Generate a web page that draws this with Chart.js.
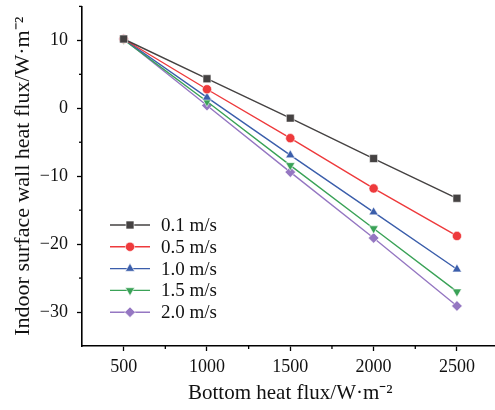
<!DOCTYPE html>
<html>
<head>
<meta charset="utf-8">
<script src="https://cdn.jsdelivr.net/npm/chart.js@4/dist/chart.umd.min.js"></script>
<style>
  html, body { margin: 0; padding: 0; background: #fff; }
  #wrap { width: 495px; height: 410px; overflow: hidden; }
</style>
</head>
<body>
<div id="wrap"><canvas id="chart" width="505" height="410"></canvas></div>
<script>
// bottom heat flux (W/m2)
const heatFlux = [500, 1000, 1500, 2000, 2500];

// indoor surface wall heat flux for each wind speed
const v01 = [10.2, 4.35, -1.45, -7.4, -13.25];
const v05 = [10.2, 2.8, -4.4, -11.8, -18.8];
const v10 = [10.2, 1.6, -6.9, -15.3, -23.7];
const v15 = [10.1, 1.0, -8.4, -17.7, -27.0];
const v20 = [10.2, 0.4, -9.4, -19.1, -29.1];

const speedLabels = ['0.1 m/s', '0.5 m/s', '1.0 m/s', '1.5 m/s', '2.0 m/s'];

const xMajor = [500, 1000, 1500, 2000, 2500];
const xMinor = [750, 1250, 1750, 2250, 2750];
const yMajor = [-30, -20, -10, 0, 10];
const yMinor = [-25, -15, -5, 5, 15];

const serif = '"Liberation Serif", "Times New Roman", serif';

function series(label, values, color, style, rot, radius) {
  return {
    label,
    data: heatFlux.map((x, i) => ({ x, y: values[i] })),
    borderColor: color,
    backgroundColor: color,
    borderWidth: 1.4,
    pointStyle: style,
    rotation: rot,
    pointRadius: radius,
    pointBorderColor: 'rgba(255,255,255,0.7)',
    pointBorderWidth: 0.8,
    tension: 0
  };
}

const datasets = [
  series(speedLabels[0], v01, '#454242', 'rect', 0, 5.6),
  series(speedLabels[1], v05, '#ee3a3c', 'circle', 0, 4.6),
  series(speedLabels[2], v10, '#3b5eab', 'triangle', 0, 5.3),
  series(speedLabels[3], v15, '#3aa257', 'triangle', 180, 5.3),
  series(speedLabels[4], v20, '#9577c2', 'rectRot', 0, 5.3)
];

const fmt = v => (v < 0 ? '\u2212' + Math.abs(v) : String(v));

// minor tick marks + line/marker legend
const extras = {
  id: 'extras',
  afterDraw(chart) {
    const ctx = chart.ctx;
    const xs = chart.scales.x, ys = chart.scales.y;
    const area = chart.chartArea;
    ctx.save();
    ctx.strokeStyle = '#000';
    ctx.lineWidth = 1.3;
    xMinor.forEach(v => {
      const px = xs.getPixelForValue(v);
      ctx.beginPath();
      ctx.moveTo(px, area.bottom);
      ctx.lineTo(px, area.bottom + 3);
      ctx.stroke();
    });
    yMinor.forEach(v => {
      const py = ys.getPixelForValue(v);
      ctx.beginPath();
      ctx.moveTo(area.left, py);
      ctx.lineTo(area.left - 3, py);
      ctx.stroke();
    });

    const lx = 110, ly = 225, gap = 21.8;
    ctx.font = '19px ' + serif;
    ctx.textBaseline = 'middle';
    ctx.textAlign = 'left';
    chart.data.datasets.forEach((ds, i) => {
      const y = ly + i * gap;
      ctx.strokeStyle = ds.borderColor;
      ctx.lineWidth = ds.borderWidth;
      ctx.beginPath();
      ctx.moveTo(lx, y);
      ctx.lineTo(lx + 40, y);
      ctx.stroke();
      ctx.fillStyle = ds.backgroundColor;
      ctx.strokeStyle = ds.pointBorderColor;
      ctx.lineWidth = ds.pointBorderWidth;
      Chart.helpers.drawPoint(ctx, {
        pointStyle: ds.pointStyle,
        rotation: ds.rotation,
        radius: ds.pointRadius,
        borderWidth: ds.pointBorderWidth
      }, lx + 20, y);
      ctx.fillStyle = '#111';
      ctx.fillText(ds.label, lx + 51, y + 1);
    });
    ctx.restore();
  }
};

new Chart(document.getElementById('chart'), {
  type: 'line',
  data: { datasets },
  plugins: [extras],
  options: {
    responsive: false,
    animation: false,
    layout: { padding: { top: 6, right: 2, left: 0, bottom: 0 } },
    plugins: { legend: { display: false }, tooltip: { enabled: false } },
    scales: {
      x: {
        type: 'linear',
        min: 250,
        max: 2750,
        afterBuildTicks: s => { s.ticks = xMajor.map(value => ({ value })); },
        afterFit: s => { s.height = 64; s.paddingLeft = 0; s.paddingRight = 0; },
        grid: { drawOnChartArea: false, drawTicks: true, tickLength: 5, tickColor: '#000', tickWidth: 1.3 },
        border: { display: true, color: '#000', width: 1.6 },
        ticks: { color: '#111', padding: 5, font: { family: serif, size: 18 }, maxRotation: 0, callback: v => fmt(v) },
        title: {
          display: true,
          text: 'Bottom heat flux/W\u00B7m\u207B\u00B2',
          color: '#111',
          font: { family: serif, size: 21 },
          padding: { top: 0, bottom: 4 }
        }
      },
      y: {
        type: 'linear',
        min: -35,
        max: 15,
        afterBuildTicks: s => { s.ticks = yMajor.map(value => ({ value })); },
        afterFit: s => { s.width = 82; s.paddingTop = 0; s.paddingBottom = 0; },
        grid: { drawOnChartArea: false, drawTicks: true, tickLength: 5, tickColor: '#000', tickWidth: 1.3 },
        border: { display: true, color: '#000', width: 1.6 },
        ticks: { color: '#111', padding: 9, font: { family: serif, size: 18 }, callback: v => fmt(v) },
        title: {
          display: true,
          text: 'Indoor surface wall heat flux/W\u00B7m\u207B\u00B2',
          color: '#111',
          font: { family: serif, size: 22 },
          padding: { top: 10, bottom: 0 }
        }
      }
    }
  }
});
</script>
</body>
</html>
